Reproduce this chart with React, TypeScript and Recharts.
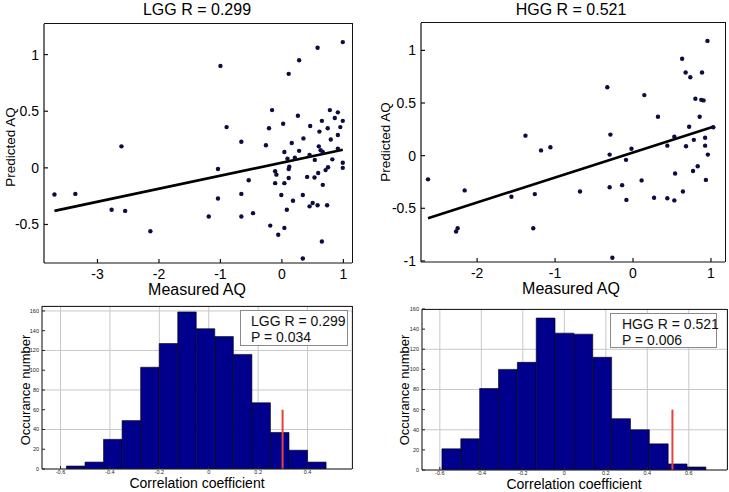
import { ScatterChart, Scatter, BarChart, Bar, XAxis, YAxis, CartesianGrid, ReferenceLine } from 'recharts';

const FONT = '"Liberation Sans", Arial, Helvetica, sans-serif';

// LGG: measured vs predicted AQ
const lggMeasured = [-3.70, -3.36, -2.61, -2.77, -2.55, -2.14, -1.19, -1.00, -1.04, -1.04, -0.90, -0.66, -0.66, -0.66, -0.54, -0.47, -0.26, -0.21, -0.16, -0.19, -0.11, -0.09, -0.11, -0.06, -0.01, 0.02, 0.04, 0.04, 0.04, 0.08, 0.11, 0.09, 0.11, 0.12, 0.11, 0.16, 0.18, 0.21, 0.26, 0.28, 0.28, 0.34, 0.35, 0.34, 0.41, 0.45, 0.46, 0.45, 0.50, 0.53, 0.535, 0.58, 0.59, 0.58, 0.61, 0.60, 0.63, 0.65, 0.665, 0.665, 0.65, 0.71, 0.75, 0.735, 0.745, 0.78, 0.795, 0.82, 0.86, 0.91, 0.91, 0.91, 0.95, 0.99, 0.99, 0.99, 0.99];
const lggPredicted = [-0.235, -0.23, 0.19, -0.37, -0.38, -0.56, -0.43, 0.90, -0.01, -0.27, 0.36, 0.23, -0.23, -0.43, -0.11, -0.40, 0.20, 0.35, 0.51, -0.51, -0.03, -0.06, -0.135, -0.59, -0.24, 0.39, 0.14, -0.135, -0.53, -0.37, 0.83, 0.08, -0.01, 0.01, -0.09, 0.22, -0.29, 0.09, 0.46, 0.95, 0.15, -0.24, 0.26, -0.80, -0.08, 0.115, 0.37, -0.34, -0.31, -0.085, 0.07, 1.06, -0.045, -0.33, 0.32, 0.19, 0.155, 0.415, 0.14, -0.15, -0.65, -0.02, 0.005, -0.33, 0.35, 0.51, 0.25, 0.075, 0.44, 0.49, 0.29, 0.17, 0.36, 0.415, 0.045, 0.0, 1.11];
const lggFitX = [-3.70, 0.99];
const lggFitY = [-0.38, 0.16];

// HGG: measured vs predicted AQ
const hggMeasured = [-2.63, -2.16, -2.27, -2.25, -1.56, -1.38, -1.26, -1.28, -1.18, -1.06, -0.68, -0.33, -0.30, -0.29, -0.30, -0.265, -0.14, -0.09, -0.085, -0.02, 0.11, 0.145, 0.27, 0.32, 0.44, 0.44, 0.53, 0.54, 0.53, 0.63, 0.64, 0.675, 0.68, 0.72, 0.735, 0.78, 0.77, 0.80, 0.83, 0.855, 0.875, 0.885, 0.905, 0.925, 0.925, 0.935, 0.955, 0.96, 1.03];
const hggPredicted = [-0.225, -0.33, -0.72, -0.69, -0.39, 0.19, -0.365, -0.69, 0.05, 0.08, -0.34, 0.65, 0.01, 0.20, -0.30, -0.97, -0.28, -0.04, -0.42, 0.065, -0.235, 0.575, -0.40, 0.37, 0.095, -0.405, 0.18, -0.17, -0.425, 0.92, -0.34, 0.79, 0.09, 0.275, 0.745, 0.15, -0.145, 0.54, -0.10, 0.37, 0.53, 0.79, 0.525, 0.17, 0.095, -0.23, 1.09, 0.01, 0.27];
const hggFitX = [-2.63, 1.03];
const hggFitY = [-0.595, 0.275];

// permutation histograms of correlation coefficient
const lggBinCenters = [-0.5385, -0.4634, -0.3883, -0.3132, -0.2381, -0.163, -0.0879, -0.0128, 0.0623, 0.1374, 0.2125, 0.2876, 0.3627, 0.4378];
const lggCounts = [3, 7, 30, 49, 103, 127, 159, 142, 134, 116, 67, 37, 19, 7];
const lggR = 0.299;
const lggP = 0.034;

const hggBinCenters = [-0.5445, -0.4536, -0.3627, -0.2718, -0.1809, -0.09, 0.0009, 0.0918, 0.1827, 0.2736, 0.3645, 0.4554, 0.5463, 0.6372];
const hggCounts = [21, 31, 81, 100, 107, 151, 136, 135, 112, 51, 40, 26, 6, 3];
const hggR = 0.521;
const hggP = 0.006;

const markerTop = 60;

const lggXTicks = [-3, -2, -1, 0, 1];
const lggYTicks = [-0.5, 0, 0.5, 1];
const hggXTicks = [-2, -1, 0, 1];
const hggYTicks = [-1, -0.5, 0, 0.5, 1];
const histYTicks = [0, 20, 40, 60, 80, 100, 120, 140, 160];
const lggHistXTicks = [-0.6, -0.4, -0.2, 0, 0.2, 0.4];
const hggHistXTicks = [-0.6, -0.4, -0.2, 0, 0.2, 0.4, 0.6];

const Dot = (p: any) => <circle cx={p.cx} cy={p.cy} r={2.2} fill="#0c0c40" />;

const axisLine = { stroke: '#111', strokeWidth: 1.2 };

// top and right edges of the axes box, laid over the plot area
const Frame = ({ width, height, margin, yw, xh, lw, color }: any) => (
  <div style={{
    position: 'absolute', pointerEvents: 'none', boxSizing: 'border-box',
    left: margin.left + yw, top: margin.top - lw / 2,
    width: width - margin.left - yw - margin.right + lw / 2,
    height: height - margin.top - margin.bottom - xh + lw / 2,
    borderTop: `${lw}px solid ${color}`, borderRight: `${lw}px solid ${color}`,
  }} />
);

function ScatterPanel(props: any) {
  const { measured, predicted, fitX, fitY, xDomain, yDomain, xTicks, yTicks, width, height, margin } = props;
  const data = measured.map((x: number, i: number) => ({ x, y: predicted[i] }));
  const tick = { fontSize: 14, fill: '#000', fontFamily: FONT };
  return (
    <div style={{ position: 'relative', width, height }}>
      <ScatterChart width={width} height={height} margin={margin}>
        <XAxis type="number" dataKey="x" domain={xDomain} ticks={xTicks} allowDataOverflow
          tickSize={-4} tickMargin={10} height={20} tick={tick} axisLine={axisLine} tickLine={axisLine} />
        <YAxis type="number" dataKey="y" domain={yDomain} ticks={yTicks} allowDataOverflow
          tickSize={-4} tickMargin={9} width={30} tick={tick} axisLine={axisLine} tickLine={axisLine} />
        <ReferenceLine segment={[{ x: fitX[0], y: fitY[0] }, { x: fitX[1], y: fitY[1] }]} stroke="#000" strokeWidth={2.6} />
        <Scatter data={data} shape={Dot} isAnimationActive={false} />
      </ScatterChart>
      <Frame width={width} height={height} margin={margin} yw={30} xh={20} lw={1.2} color="#111" />
    </div>
  );
}

function HistPanel(props: any) {
  const { centers, counts, r, xDomain, yDomain, xTicks, barSize, width, height, margin } = props;
  const data = centers.map((c: number, i: number) => ({ c, n: counts[i] }));
  const tick = { fontSize: 5.5, fill: '#222', fontFamily: FONT };
  const thin = { stroke: '#222', strokeWidth: 1 };
  return (
    <div style={{ position: 'relative', width, height }}>
      <BarChart width={width} height={height} margin={margin} data={data} barCategoryGap={0} barGap={0}>
        <CartesianGrid stroke="#c8c8c8" />
        <XAxis type="number" dataKey="c" domain={xDomain} ticks={xTicks} allowDataOverflow
          tickSize={-3} tickMargin={4} height={12} tick={tick} axisLine={thin} tickLine={thin} />
        <YAxis type="number" domain={yDomain} ticks={histYTicks} allowDataOverflow
          tickSize={-3} tickMargin={6} width={30} tick={tick} axisLine={thin} tickLine={thin} />
        <Bar dataKey="n" fill="#00008c" stroke="#000" strokeWidth={0.6} barSize={barSize} isAnimationActive={false} />
        <ReferenceLine segment={[{ x: r, y: 0 }, { x: r, y: markerTop }]} stroke="#e8413a" strokeWidth={2} />
      </BarChart>
      <Frame width={width} height={height} margin={margin} yw={30} xh={12} lw={1} color="#222" />
    </div>
  );
}

const Txt = ({ x, y, size, rotate, children }: any) => (
  <div style={{
    position: 'absolute', left: x, top: y, fontSize: size, fontFamily: FONT, lineHeight: 1, whiteSpace: 'nowrap', color: '#000',
    transform: `translate(-50%, -50%)${rotate ? ' rotate(-90deg)' : ''}`,
  }}>{children}</div>
);

const LegendBox = ({ x, y, w, h, pad, lines }: any) => (
  <div style={{
    position: 'absolute', left: x, top: y, width: w, height: h, boxSizing: 'border-box', background: '#fff',
    border: '1px solid #8a8a8a', fontFamily: FONT, fontSize: 14, lineHeight: '16px', padding: `2px 0 0 ${pad}px`,
    color: '#111', whiteSpace: 'nowrap',
  }}>
    {lines.map((l: string) => <div key={l}>{l}</div>)}
  </div>
);

export default function App() {
  return (
    <div style={{ position: 'absolute', left: 0, top: 0, width: 729, height: 492, background: '#fff', overflow: 'hidden' }}>
      <div style={{ position: 'absolute', left: 0, top: 0 }}>
        <ScatterPanel measured={lggMeasured} predicted={lggPredicted} fitX={lggFitX} fitY={lggFitY}
          xDomain={[-3.87, 1.14]} yDomain={[-0.84, 1.27]} xTicks={lggXTicks} yTicks={lggYTicks}
          width={364} height={300} margin={{ top: 24, right: 12, left: 14, bottom: 17 }} />
      </div>
      <div style={{ position: 'absolute', left: 364, top: 0 }}>
        <ScatterPanel measured={hggMeasured} predicted={hggPredicted} fitX={hggFitX} fitY={hggFitY}
          xDomain={[-2.72, 1.18]} yDomain={[-1.01, 1.26]} xTicks={hggXTicks} yTicks={hggYTicks}
          width={365} height={300} margin={{ top: 23, right: 4, left: 27, bottom: 18 }} />
      </div>
      <div style={{ position: 'absolute', left: 0, top: 280 }}>
        <HistPanel centers={lggBinCenters} counts={lggCounts} r={lggR}
          xDomain={[-0.675, 0.58]} yDomain={[0, 165]} xTicks={lggHistXTicks} barSize={18.5}
          width={364} height={212} margin={{ top: 26, right: 12, left: 12, bottom: 11 }} />
      </div>
      <div style={{ position: 'absolute', left: 364, top: 280 }}>
        <HistPanel centers={hggBinCenters} counts={hggCounts} r={hggR}
          xDomain={[-0.686, 0.784]} yDomain={[0, 160]} xTicks={hggHistXTicks} barSize={18.8}
          width={365} height={212} margin={{ top: 29, right: 2, left: 28, bottom: 10 }} />
      </div>

      <Txt x={197} y={10} size={16}>LGG R = {lggR}</Txt>
      <Txt x={571} y={10} size={16}>HGG R = {hggR}</Txt>
      <Txt x={197} y={290} size={16}>Measured AQ</Txt>
      <Txt x={571} y={289} size={16}>Measured AQ</Txt>
      <Txt x={11} y={147} size={13.5} rotate>Predicted AQ</Txt>
      <Txt x={386} y={142} size={13.5} rotate>Predicted AQ</Txt>
      <Txt x={25} y={390} size={13} rotate>Occurance number</Txt>
      <Txt x={404} y={390} size={13} rotate>Occurance number</Txt>
      <Txt x={197} y={483} size={14}>Correlation coefficient</Txt>
      <Txt x={574} y={484} size={14}>Correlation coefficient</Txt>

      <LegendBox x={240} y={310} w={108} h={36} pad={10} lines={[`LGG R = ${lggR}`, `P = ${lggP}`]} />
      <LegendBox x={610} y={313} w={107} h={35} pad={11} lines={[`HGG R = ${hggR}`, `P = ${hggP}`]} />
    </div>
  );
}
